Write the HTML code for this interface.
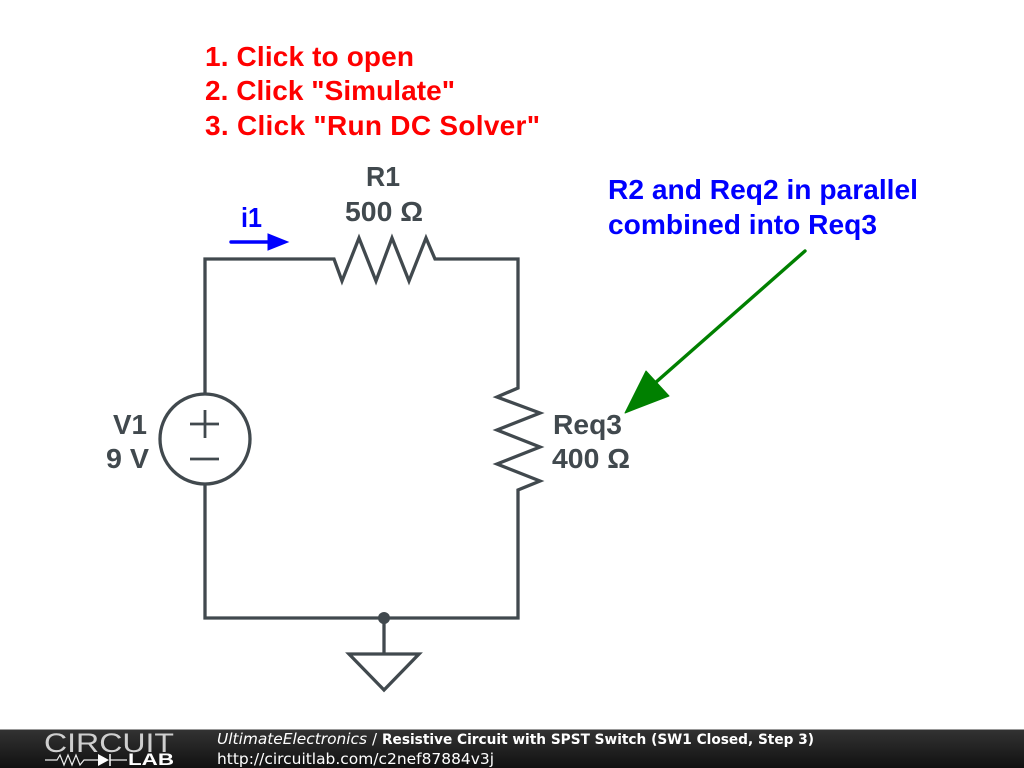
<!DOCTYPE html>
<html><head><meta charset="utf-8"><style>
html,body{margin:0;padding:0;background:#fff;width:1024px;height:768px;overflow:hidden}
svg{display:block}
.t{font-family:"Liberation Sans",Arial,sans-serif;font-weight:700;font-size:28px}
.g{fill:#41494e}.r{fill:#f00}.b{fill:#00f}
.f{font-family:"DejaVu Sans",sans-serif;fill:#fff}
.w{fill:none;stroke:#41494e;stroke-width:3.3;stroke-linejoin:miter}
</style></head><body>
<svg width="1024" height="768" viewBox="0 0 1024 768" xmlns="http://www.w3.org/2000/svg">
<defs><linearGradient id="bar" x1="0" y1="0" x2="0" y2="1"><stop offset="0" stop-color="#333"/><stop offset="1" stop-color="#111"/></linearGradient></defs>
<rect width="1024" height="768" fill="#fff"/>
<text class="t r" x="205" y="66" textLength="209" lengthAdjust="spacing">1. Click to open</text>
<text class="t r" x="205" y="100" textLength="250" lengthAdjust="spacing">2. Click "Simulate"</text>
<text class="t r" x="205" y="135" textLength="335" lengthAdjust="spacing">3. Click "Run DC Solver"</text>
<text class="t g" x="366" y="186" textLength="34" lengthAdjust="spacingAndGlyphs">R1</text>
<text class="t g" x="345" y="221" textLength="78" lengthAdjust="spacingAndGlyphs">500 Ω</text>
<text class="t b" x="241" y="227" textLength="21" lengthAdjust="spacingAndGlyphs">i1</text>
<text class="t b" x="608" y="199" textLength="310" lengthAdjust="spacingAndGlyphs">R2 and Req2 in parallel</text>
<text class="t b" x="608" y="234" textLength="269" lengthAdjust="spacingAndGlyphs">combined into Req3</text>
<text class="t g" x="113" y="434" textLength="34" lengthAdjust="spacingAndGlyphs">V1</text>
<text class="t g" x="106" y="468" textLength="43" lengthAdjust="spacingAndGlyphs">9 V</text>
<text class="t g" x="553" y="434" textLength="69" lengthAdjust="spacingAndGlyphs">Req3</text>
<text class="t g" x="552" y="468" textLength="78" lengthAdjust="spacingAndGlyphs">400 Ω</text>
<polyline class="w" points="205,394 205,259 334,259 342,281 359,238 376,281 392,238 409,281 426,238 435,259 518,259 518,388 497,397 540,413 497,430 540,447 497,464 540,481 518,490 518,618 205,618 205,484"/>
<circle class="w" cx="205" cy="439" r="45" stroke-width="3"/>
<path d="M190,424H219M205,410V438M190,459H219" fill="none" stroke="#41494e" stroke-width="2.8"/>
<path class="w" d="M384,618V654"/>
<circle cx="384" cy="618" r="6" fill="#41494e"/>
<polygon class="w" points="349,654 419,654 384,690" stroke-linejoin="round"/>
<path d="M231,242H270" stroke="#00f" stroke-width="3.4" stroke-linecap="round"/>
<polygon points="268,234 288,242 268,250" fill="#00f" stroke="#00f" stroke-width="1"/>
<path d="M805,251L655,383" stroke="#008000" stroke-width="3.4" stroke-linecap="round"/>
<polygon points="625,413 646,371 669,396" fill="#008000" stroke="#008000" stroke-width="1" stroke-linejoin="round"/>
<rect x="0" y="729" width="1024" height="39" fill="url(#bar)"/>
<rect x="0" y="729" width="1024" height="1" fill="#999"/>
<text x="44" y="752" font-family="'Liberation Sans',sans-serif" font-size="26.5" fill="#cfcfcf" textLength="130" lengthAdjust="spacingAndGlyphs">CIRCUIT</text>
<path d="M45,760H57L60,755L64,765L68,755L72,765L76,755L80,765L84,760H98M110,760H127" fill="none" stroke="#eee" stroke-width="1.2"/>
<polygon points="98,754 98,766 109,760" fill="#fff"/>
<path d="M110,754V766" stroke="#fff" stroke-width="1.5"/>
<text x="128" y="765" font-family="'Liberation Sans',sans-serif" font-size="17" font-weight="700" fill="#fff" textLength="46" lengthAdjust="spacingAndGlyphs">LAB</text>
<text class="f" font-size="15.4" font-style="italic" x="217" y="744" textLength="150" lengthAdjust="spacingAndGlyphs">UltimateElectronics</text>
<text class="f" font-size="15" x="372" y="744">/</text>
<text class="f" font-size="14" font-weight="700" x="382" y="744" textLength="432" lengthAdjust="spacingAndGlyphs">Resistive Circuit with SPST Switch (SW1 Closed, Step 3)</text>
<text class="f" font-size="15.4" x="217" y="764" textLength="277" lengthAdjust="spacingAndGlyphs">http://circuitlab.com/c2nef87884v3j</text>
</svg>
</body></html>
